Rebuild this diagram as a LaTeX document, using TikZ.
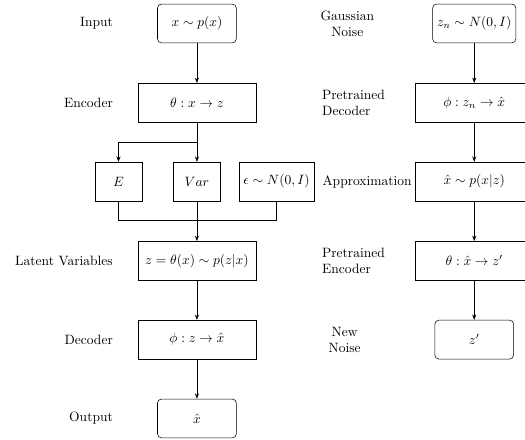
\documentclass[tikz,border=0pt]{standalone}
\usetikzlibrary{arrows.meta}
\begin{document}
\begin{tikzpicture}
        [box/.style={rectangle,draw,minimum width=3.07cm,minimum height=1.01cm},
        rbox/.style={rectangle,draw,rounded corners=3pt,minimum width=2.05cm,minimum height=1.01cm},
        sbox/.style={rectangle,draw,minimum width=1.22cm,minimum height=1.01cm},
        lab/.style={inner sep=0pt},
        edge/.style={black},
        arr/.style={black,-{Stealth[length=4pt,width=3pt]}}]

        \useasboundingbox (0,0) rectangle (13.65,-11.44);

        % VAE training column (left)
        \node[rbox] (in) at (5.12,-0.61) {$x \sim p(x)$};
        \node[box] (enc) at (5.12,-2.67) {$\theta : x \rightarrow z$};
        \node[sbox] (e) at (3.08,-4.72) {$E$};
        \node[sbox] (var) at (5.12,-4.72) {$Var$};
        \node[sbox] (eps) at (7.19,-4.72) {$\epsilon \sim N(0,I)$};
        \node[box] (lat) at (5.12,-6.78) {$z = \theta(x) \sim p(z|x)$};
        \node[box] (dec) at (5.12,-8.83) {$\phi : z \rightarrow \hat{x}$};
        \node[rbox] (out) at (5.12,-10.88) {$\hat{x}$};

        % split and merge points
        \coordinate (split) at (5.12,-3.70);
        \coordinate (join) at (5.12,-5.74);

        % labels on the left
        \node[lab, anchor=east] (lin) at (2.94,-0.61) {Input};
        \node[lab, anchor=east] (lenc) at (2.94,-2.67) {Encoder};
        \node[lab, anchor=east] (llat) at (2.94,-6.78) {Latent Variables};
        \node[lab, anchor=east] (ldec) at (2.94,-8.83) {Decoder};
        \node[lab, anchor=east] (lout) at (2.94,-10.88) {Output};

        % sampling column (right)
        \node[rbox] (gn) at (12.33,-0.61) {$z_n \sim N(0,I)$};
        \node[box] (pdec) at (12.33,-2.67) {$\phi : z_n \rightarrow \hat{x}$};
        \node[box] (appr) at (12.33,-4.72) {$\hat{x} \sim p(x|z)$};
        \node[box] (penc) at (12.33,-6.78) {$\theta : \hat{x} \rightarrow z'$};
        \node[rbox] (nn) at (12.33,-8.83) {$z'$};

        % labels on the right
        \node[lab, align=center] (lgn) at (9.03,-0.61) {Gaussian\\Noise};
        \node[lab, align=left, anchor=west] (lpdec) at (8.37,-2.67) {Pretrained\\Decoder};
        \node[lab, anchor=east] (lappr) at (10.71,-4.72) {Approximation};
        \node[lab, align=left, anchor=west] (lpenc) at (8.37,-6.78) {Pretrained\\Encoder};
        \node[lab, align=center] (lnn) at (8.96,-8.83) {New\\Noise};

        % left connections
        \draw[arr] (in) -- (enc);
        \draw[edge] (enc) -- (split);
        \draw[arr] (split) -- (var);
        \draw[arr] (split) -| (e);
        \draw[edge] (e) |- (join);
        \draw[edge] (eps) |- (join);
        \draw[edge] (var) -- (join);
        \draw[arr] (join) -- (lat);
        \draw[arr] (lat) -- (dec);
        \draw[arr] (dec) -- (out);

        % right connections
        \draw[arr] (gn) -- (pdec);
        \draw[arr] (pdec) -- (appr);
        \draw[arr] (appr) -- (penc);
        \draw[arr] (penc) -- (nn);

    \end{tikzpicture}
\end{document}
